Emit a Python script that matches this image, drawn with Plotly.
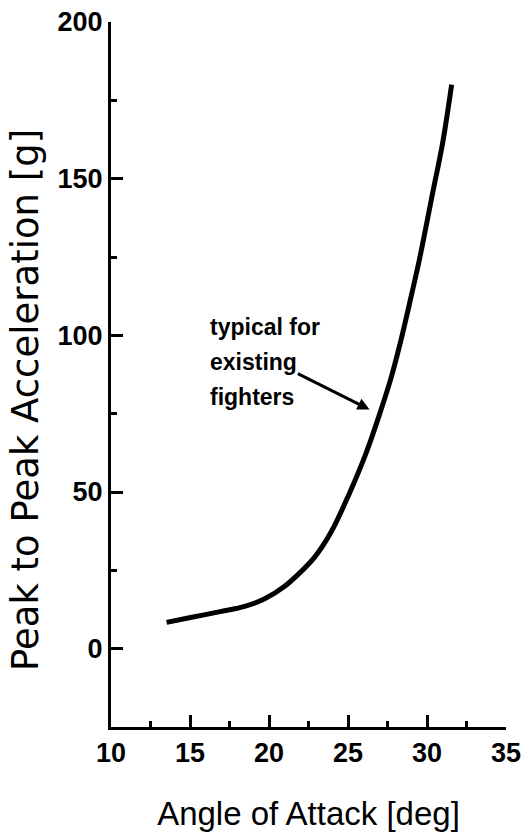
import plotly.graph_objects as go

# Data
angle_deg = [13.52, 14.88, 16.99, 18.46, 19.73, 20.99, 22.05, 22.89, 23.94, 25.10,
             26.15, 26.99, 27.73, 28.36, 29.00, 29.52, 30.36, 30.99, 31.56]
peak_accel_g = [8.4, 9.8, 11.9, 13.5, 15.9, 19.9, 24.7, 29.2, 37.3, 49.7,
                62.5, 74.7, 86.5, 98.6, 112.5, 124.2, 145.5, 161.4, 180.0]

x_ticks = [10, 15, 20, 25, 30, 35]
y_ticks = [0, 50, 100, 150, 200]
note_lines = ["typical for", "existing", "fighters"]
x_title = "Angle of Attack [deg]"
y_title = "Peak to Peak Acceleration [g]"

sans = "Liberation Sans, Arial, Helvetica, sans-serif"

fig = go.Figure()
fig.add_trace(go.Scatter(
    x=angle_deg, y=peak_accel_g, mode="lines",
    line=dict(color="black", width=5, shape="spline", smoothing=1.0),
    showlegend=False, hoverinfo="skip",
))

fig.add_annotation(
    x=26.36, y=76.3, ax=21.73, ay=88.0, xref="x", yref="y", axref="x", ayref="y",
    text="", showarrow=True, arrowhead=2, arrowsize=0.8, arrowwidth=3, arrowcolor="black",
)
for line, yv in zip(note_lines, [102.8, 91.6, 80.4]):
    fig.add_annotation(
        x=16.13, y=yv, xref="x", yref="y", xanchor="left", yanchor="middle", align="left",
        text=line, showarrow=False,
        font=dict(family=sans, size=23, color="black", weight="bold"),
    )

# y-axis title placed as rotated text (offset below the plot centre, as in the reference)
fig.add_annotation(
    x=-0.2177, y=0.4638, xref="paper", yref="paper", xanchor="center", yanchor="middle",
    text=y_title, textangle=-90, showarrow=False,
    font=dict(family="DejaVu Sans, sans-serif", size=37, color="black"),
)

fig.update_layout(
    width=524, height=838,
    margin=dict(l=111, r=18, t=22, b=111),
    paper_bgcolor="white", plot_bgcolor="white",
    xaxis=dict(
        range=[10, 35], tickvals=x_ticks, ticktext=[str(v) for v in x_ticks],
        automargin=False, ticklabeloverflow="allow",
        showgrid=False, zeroline=False, showline=True, linecolor="black", linewidth=3,
        ticks="inside", ticklen=12, tickwidth=2.5, tickcolor="black",
        minor=dict(tickvals=[12.5, 17.5, 22.5, 27.5, 32.5], ticks="inside", ticklen=6,
                   tickwidth=2.5, tickcolor="black", showgrid=False),
        tickfont=dict(family=sans, size=27, color="black", weight="bold"),
        title=dict(text=x_title, standoff=35,
                   font=dict(family=sans, size=33, color="black")),
    ),
    yaxis=dict(
        range=[-25, 200], tickvals=y_ticks, ticktext=[str(v) for v in y_ticks],
        automargin=False, ticklabeloverflow="allow",
        showgrid=False, zeroline=False, showline=True, linecolor="black", linewidth=3,
        ticks="inside", ticklen=12, tickwidth=2.5, tickcolor="black",
        minor=dict(tickvals=[25, 75, 125, 175], ticks="inside", ticklen=6,
                   tickwidth=2.5, tickcolor="black", showgrid=False),
        tickfont=dict(family=sans, size=27, color="black", weight="bold"),
    ),
)

fig.write_html(
    "out.html",
    config={"displayModeBar": False},
    post_script="document.body.style.margin='0';document.body.style.overflow='hidden';",
)
